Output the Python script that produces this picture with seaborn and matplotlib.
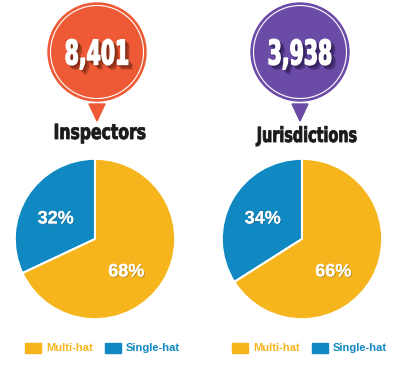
import numpy as np
import matplotlib
matplotlib.use("Agg")
import matplotlib.pyplot as plt
import matplotlib.patheffects as pe
from matplotlib.colors import to_rgba
from matplotlib.patches import Circle, Polygon, Patch
from matplotlib.transforms import Affine2D
import seaborn as sns

# DATA ---------------------------------------------
groups = ["Inspectors", "Jurisdictions"]
totals = ["8,401", "3,938"]
categories = ["Single-hat", "Multi-hat"]
single_hat = [32, 34]
multi_hat = [68, 66]
# --------------------------------------------------

sns.set_theme(style="white")
plt.rcParams["font.family"] = ["Liberation Sans", "DejaVu Sans"]

pie_colors = {"Multi-hat": "#F6B51C", "Single-hat": "#1089C2"}
bubble_colors = ["#EE5A35", "#6A4CA7"]


class Squeeze(pe.AbstractPathEffect):
    """Draw text glyphs squeezed horizontally around cx (display px)."""
    def __init__(self, sx, cx, offset=(0, 0), color=None, alpha=None, lw=0):
        super().__init__(offset)
        self.sx, self.cx, self.alpha, self.lw = sx, cx, alpha, lw
        self.color = to_rgba(color) if color is not None else None

    def draw_path(self, renderer, gc, tpath, affine, rgbFace=None):
        gc0 = renderer.new_gc()
        gc0.copy_properties(gc)
        if self.alpha is not None:
            gc0.set_alpha(self.alpha)
        face = self.color if self.color is not None else rgbFace
        if self.lw:
            gc0.set_foreground(face)
            gc0.set_linewidth(self.lw)
        else:
            gc0.set_foreground("none")
            gc0.set_linewidth(0)
        sq = Affine2D().translate(-self.cx, 0).scale(self.sx, 1).translate(self.cx, 0)
        renderer.draw_path(gc0, tpath, affine + sq + self._offset_transform(renderer), face)
        gc0.restore()


W, H = 400, 368
fig = plt.figure(figsize=(W / 100, H / 100), dpi=100)
fig.patch.set_facecolor("white")

# overlay axes in pixel coords for bubbles and headings
top = fig.add_axes([0, 0, 1, 1])
top.set_xlim(0, W)
top.set_ylim(H, 0)
top.axis("off")

bubble_x = [97, 300]
head_x = [100, 307]
head_y = [133, 136]
head_sq = [0.75, 0.69]
pie_cx = [95, 302]
pie_cy = 239
pie_r = 81
shadow_cols = ["#5a1a0c", "#1e1040"]
# label spots inside the wedges (axes units of the pie)
label_pos = [(-0.49, 0.25), (0.39, -0.41)]

for i, g in enumerate(groups):
    cx = bubble_x[i]
    top.add_patch(Circle((cx, 52), 49, color=bubble_colors[i], zorder=1))
    top.add_patch(Circle((cx, 52), 46.5, fill=False, ec="white", lw=0.8, zorder=2))
    top.add_patch(Polygon([(cx - 8, 104), (cx + 8, 104), (cx, 121)],
                          closed=True, color=bubble_colors[i], zorder=1))
    shadow = [Squeeze(0.6, cx, offset=(d, -d), color=shadow_cols[i], alpha=0.22, lw=1.0)
              for d in (0.8, 1.6, 2.4, 3.2)]
    top.text(cx, 55, totals[i], color="white", fontsize=24.5, fontweight="bold",
             family="DejaVu Sans", ha="center", va="center", zorder=3,
             path_effects=shadow + [Squeeze(0.6, cx, lw=1.0)])
    top.text(head_x[i], head_y[i], g, color="#1a1a1a", fontsize=15, fontweight="bold",
             family="DejaVu Sans", ha="center", va="center",
             path_effects=[Squeeze(head_sq[i], head_x[i], lw=0.6)])

    # pie
    ax = fig.add_axes([(pie_cx[i] - pie_r) / W, (H - pie_cy - pie_r) / H,
                       2 * pie_r / W, 2 * pie_r / H])
    vals = [single_hat[i], multi_hat[i]]
    wedges, texts, autotexts = ax.pie(
        vals, colors=[pie_colors[c] for c in categories], startangle=90,
        counterclock=True, autopct="%d%%", pctdistance=0.56,
        wedgeprops=dict(edgecolor="white", linewidth=1.5),
        textprops=dict(color="white", fontsize=13, fontweight="bold"))
    for t, pos in zip(autotexts, label_pos):
        t.set_position(pos)
        t.set_path_effects([pe.withSimplePatchShadow(offset=(0.8, -0.8), alpha=0.3), pe.Normal()])
    ax.set_xlim(-1.01, 1.01)
    ax.set_ylim(-1.01, 1.01)
    ax.set_aspect("equal")
    ax.axis("off")

    handles = [Patch(color=pie_colors["Multi-hat"]), Patch(color=pie_colors["Single-hat"])]
    leg = fig.legend(handles, ["Multi-hat", "Single-hat"], ncol=2, frameon=False,
                     loc="center left",
                     bbox_to_anchor=((pie_cx[i] - 70) / W, (H - 348) / H),
                     prop=dict(size=8, weight="bold"), handlelength=1.4,
                     handleheight=1.0, handletextpad=0.5, columnspacing=1.1,
                     borderaxespad=0, borderpad=0)
    for t, c in zip(leg.get_texts(), ["Multi-hat", "Single-hat"]):
        t.set_color(pie_colors[c])

fig.savefig("out.png", dpi=100, facecolor="white")
